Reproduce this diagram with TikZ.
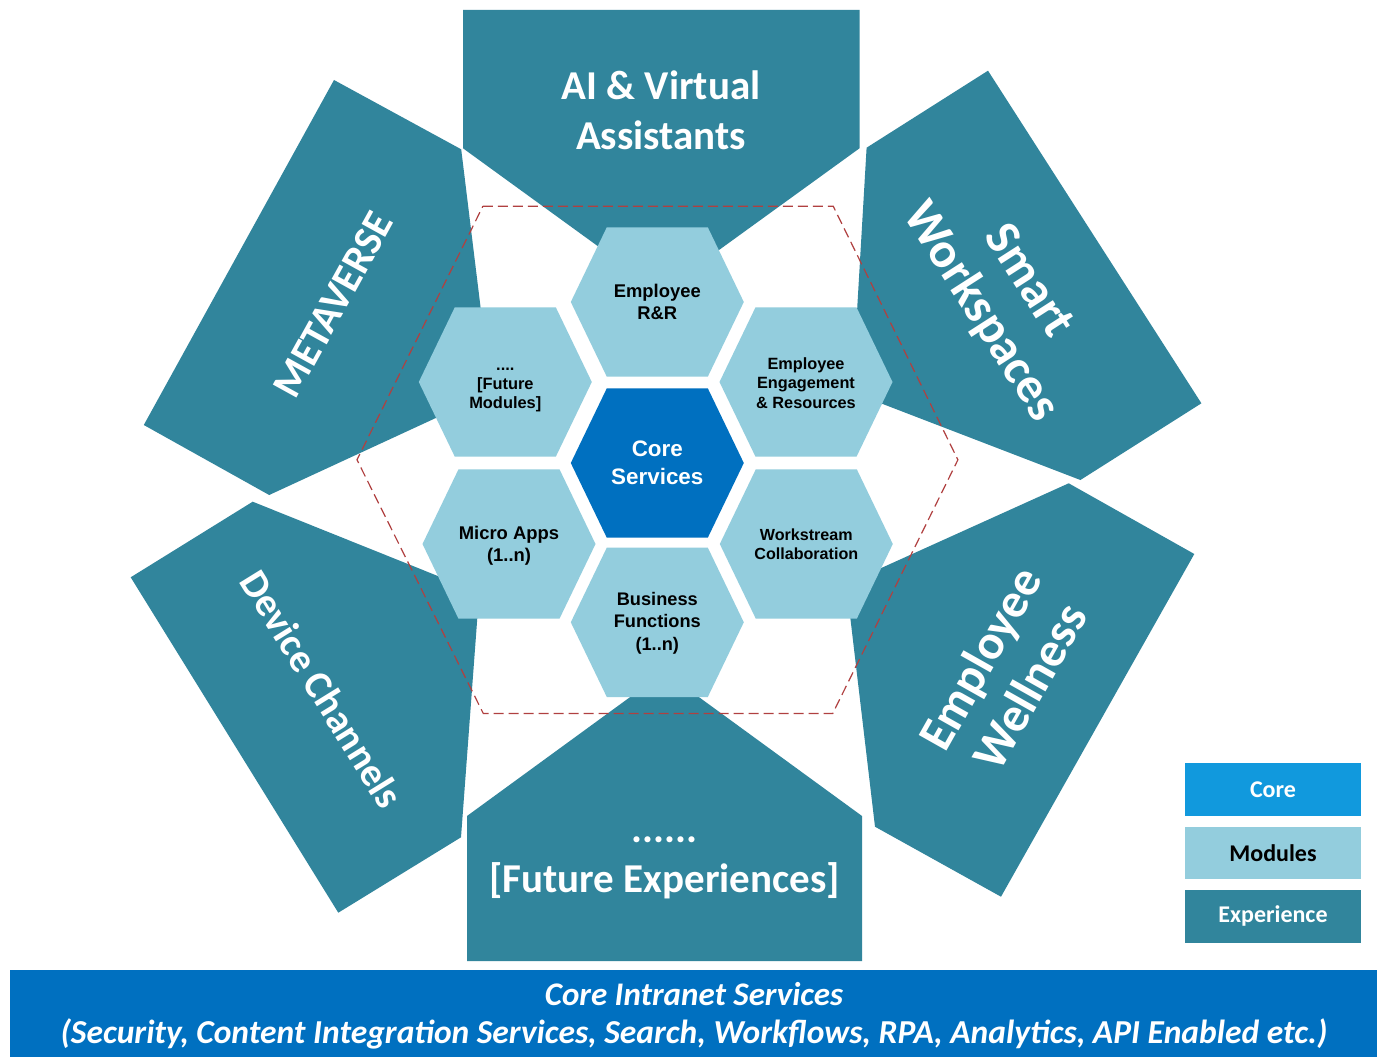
\documentclass[tikz,border=0pt]{standalone}
\usepackage{fontspec}
\setmainfont{Carlito}
\newfontfamily\arialfont{Liberation Sans}
\definecolor{expcol}{HTML}{31859C}
\definecolor{modcol}{HTML}{93CDDD}
\definecolor{corecol}{HTML}{0070C0}
\definecolor{legcore}{HTML}{1199DD}
\definecolor{dashcol}{HTML}{B04040}
\newcommand{\hexfill}[3]{\fill[#3,shift={(#1,#2)}] (-86.5,0) -- (-50.5,-74.7) -- (50.5,-74.7) -- (86.5,0) -- (50.5,74.7) -- (-50.5,74.7) -- cycle;}
\begin{document}
\begin{tikzpicture}[x=1pt,y=-1pt,
  exptext/.style 2 args={text=white,font=\bfseries\fontsize{#1}{#2}\selectfont,align=center,inner sep=0pt},
  hextext/.style 2 args={font=\arialfont\bfseries\fontsize{#1}{#2}\selectfont,align=center,inner sep=0pt},
  legbox/.style={minimum width=176pt,minimum height=52.5pt,inner sep=0pt,font=\bfseries\fontsize{24}{28}\selectfont},
  bandtext/.style={text=white,font=\bfseries\itshape\fontsize{#1}{38}\selectfont,inner sep=0pt}]
\useasboundingbox (0,0) rectangle (1377,1057);
\fill[white] (0,0) rectangle (1377,1057);
% experience shapes
\fill[expcol] (463,10) -- (859.5,10) -- (859.5,148.3) -- (661,292) -- (463,148.3) -- cycle;
\fill[expcol] (988,70.7) -- (1201.4,403.3) -- (1080.4,480) -- (852.3,392.3) -- (866.6,147.7) -- cycle;
\fill[expcol] (1068.7,483.3) -- (1194.3,554) -- (1001,896.7) -- (875,826.7) -- (846.3,583.8) -- cycle;
\fill[expcol] (467,961) -- (862,961) -- (862,816) -- (664.5,672) -- (467,816) -- cycle;
\fill[expcol] (252.7,501.7) -- (130.7,577.3) -- (338.3,912.7) -- (461,837.3) -- (479.2,592.6) -- cycle;
\fill[expcol] (334,80) -- (143.8,425) -- (269.2,495) -- (491,392.5) -- (461.2,149.3) -- cycle;
% dashed hexagon
\draw[dashcol, line width=1.2pt, dash pattern=on 10pt off 5pt] (482.9,206.2) -- (833.2,206.2) -- (957.9,459.8) -- (832.7,713.5) -- (483.3,713.5) -- (357,459.8) -- cycle;
% hexes
\hexfill{657.3}{302}{modcol}
\hexfill{505.3}{382}{modcol}
\hexfill{806}{382}{modcol}
\hexfill{657.3}{463}{corecol}
\hexfill{509}{544}{modcol}
\hexfill{806.3}{544}{modcol}
\hexfill{657.3}{622.3}{modcol}
% hex labels
\node[hextext={18.4}{21.5}] (rr) at (657.3,302) {Employee\\R\&R};
\node[hextext={16.4}{19.2}] (fm) at (505.3,390) {....\\{}[Future\\Modules]};
\node[hextext={16.3}{19.6}] (ee) at (806,383) {Employee\\Engagement\\\& Resources};
\node[hextext={22.4}{28},text=white] (cs) at (657.3,463) {Core\\Services};
\node[hextext={18.4}{22}] (ma) at (509,546) {Micro Apps\\(1..n)};
\node[hextext={16.1}{19}] (wc) at (806.3,544) {Workstream\\Collaboration};
\node[hextext={18.2}{22.5}] (bf) at (657.3,623) {Business\\Functions\\(1..n)};
% experience labels
\node[exptext={41}{50}] (ai) at (661,110) {AI \& Virtual\\Assistants};
\node[exptext={50}{57},rotate=-57.3] (sw) at (1003.8,297) {Smart\\Workspaces};
\node[exptext={49}{57},rotate=60.6] (ew) at (1004.5,672.3) {Employee\\Wellness};
\node[exptext={41.5}{50},rotate=61.1] (mv) at (333.5,304.6) {METAVERSE};
\node[exptext={40}{50},rotate=-58.25] (dc) at (322,689) {Device Channels};
\node[exptext={41}{50},anchor=base] (fd) at (664.5,842) {......};
\node[exptext={41}{50},anchor=base] (fe) at (664.5,892) {[Future Experiences]};
% legend
\node[legbox,fill=legcore,text=white] (lc) at (1273,789.5) {Core};
\node[legbox,fill=modcol,text=black] (lm) at (1273,852.8) {Modules};
\node[legbox,fill=expcol,text=white] (le) at (1273,916.3) {Experience};
% band
\fill[corecol] (10,970) rectangle (1377,1057);
\node[bandtext=33,anchor=base] (b1) at (694,1005) {Core Intranet Services};
\node[bandtext=33.5,anchor=base] (b2) at (694,1043) {(Security, Content Integration Services, Search, Workflows, RPA, Analytics, API Enabled etc.)};
\end{tikzpicture}
\end{document}
